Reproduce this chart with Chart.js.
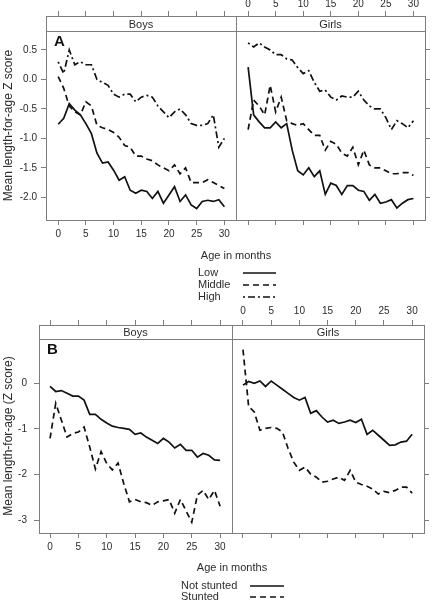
<!DOCTYPE html>
<html lang="en">
<head>
<meta charset="UTF-8">
<title>Mean length-for-age Z score by age</title>
<style>
  body { margin: 0; background: #fff; }
  .wrap { position: relative; width: 432px; height: 601px; }
  .wrap canvas { position: absolute; left: 0; top: 0; }
</style>
</head>
<body>
<div class="wrap">
  <canvas id="a-boys" width="432" height="601"></canvas>
  <canvas id="a-girls" width="432" height="601"></canvas>
  <canvas id="b-boys" width="432" height="601"></canvas>
  <canvas id="b-girls" width="432" height="601"></canvas>
</div>
<script src="https://cdn.jsdelivr.net/npm/chart.js"></script>
<script>
// age in months, one point per month
const months = [0, 1, 2, 3, 4, 5, 6, 7, 8, 9, 10, 11, 12, 13, 14, 15, 16, 17, 18, 19, 20, 21, 22, 23, 24, 25, 26, 27, 28, 29, 30];
const xTicks = [0, 5, 10, 15, 20, 25, 30];

// panel A: by socioeconomic group
const yTicksA = [-2, -1.5, -1, -0.5, 0, 0.5];
const yLabelsA = ['-2.0', '-1.5', '-1.0', '-0.5', '0.0', '0.5'];
const lowBoys = [-0.76, -0.66, -0.41, -0.52, -0.60, -0.75, -0.92, -1.25, -1.42, -1.40, -1.54, -1.71, -1.65, -1.88, -1.93, -1.88, -1.90, -2.02, -1.90, -2.10, -1.96, -1.82, -2.07, -1.96, -2.13, -2.19, -2.07, -2.05, -2.07, -2.04, -2.16];
const middleBoys = [0.05, -0.15, -0.45, -0.55, -0.60, -0.38, -0.45, -0.78, -0.82, -0.85, -0.90, -0.98, -1.12, -1.15, -1.30, -1.30, -1.35, -1.38, -1.45, -1.50, -1.55, -1.45, -1.60, -1.50, -1.75, -1.75, -1.75, -1.70, -1.75, -1.80, -1.85];
const highBoys = [0.30, 0.10, 0.50, 0.25, 0.30, 0.25, 0.25, 0.00, -0.05, -0.10, -0.25, -0.30, -0.25, -0.25, -0.38, -0.30, -0.27, -0.30, -0.45, -0.55, -0.65, -0.55, -0.50, -0.60, -0.75, -0.78, -0.78, -0.75, -0.60, -1.15, -1.00];
const lowGirls = [0.21, -0.60, -0.72, -0.82, -0.82, -0.72, -0.82, -0.75, -1.20, -1.55, -1.62, -1.50, -1.65, -1.55, -1.95, -1.76, -1.80, -1.95, -1.80, -1.80, -1.88, -1.90, -2.05, -1.95, -2.10, -2.08, -2.04, -2.18, -2.10, -2.04, -2.02];
const middleGirls = [-0.85, -0.35, -0.45, -0.60, -0.10, -0.55, -0.30, -0.70, -0.75, -0.78, -0.75, -0.85, -0.95, -0.95, -1.20, -1.05, -1.10, -1.25, -1.30, -1.15, -1.45, -1.20, -1.45, -1.50, -1.50, -1.55, -1.60, -1.60, -1.58, -1.58, -1.63];
const highGirls = [0.62, 0.55, 0.62, 0.55, 0.50, 0.42, 0.42, 0.35, 0.33, 0.20, 0.10, 0.15, -0.05, -0.20, -0.18, -0.30, -0.35, -0.28, -0.30, -0.30, -0.20, -0.35, -0.45, -0.50, -0.50, -0.65, -0.85, -0.70, -0.75, -0.82, -0.70];

// panel B: by stunting status
const yTicksB = [-3, -2, -1, 0];
const yLabelsB = ['-3', '-2', '-1', '0'];
const notStuntedBoys = [-0.07, -0.18, -0.16, -0.22, -0.28, -0.28, -0.37, -0.68, -0.68, -0.79, -0.87, -0.94, -0.97, -0.99, -1.01, -1.12, -1.09, -1.18, -1.25, -1.32, -1.21, -1.29, -1.42, -1.34, -1.47, -1.47, -1.62, -1.54, -1.58, -1.68, -1.69];
const stuntedBoys = [-1.21, -0.44, -0.81, -1.18, -1.10, -1.07, -0.96, -1.40, -1.88, -1.50, -1.76, -1.90, -1.75, -2.20, -2.60, -2.55, -2.60, -2.62, -2.68, -2.60, -2.58, -2.55, -2.85, -2.55, -2.80, -3.05, -2.45, -2.35, -2.55, -2.35, -2.70];
const notStuntedGirls = [-0.04, 0.04, 0.00, 0.05, -0.07, 0.05, -0.04, -0.13, -0.22, -0.31, -0.37, -0.31, -0.66, -0.60, -0.74, -0.85, -0.81, -0.88, -0.85, -0.81, -0.86, -0.79, -1.12, -1.03, -1.14, -1.25, -1.36, -1.35, -1.29, -1.27, -1.12];
const stuntedGirls = [0.74, -0.51, -0.63, -1.03, -0.99, -0.97, -0.99, -1.07, -1.43, -1.73, -1.91, -1.84, -1.99, -2.06, -2.17, -2.15, -2.10, -2.06, -2.13, -1.91, -2.17, -2.22, -2.26, -2.32, -2.43, -2.37, -2.40, -2.35, -2.28, -2.28, -2.41];

const FONT = '"Liberation Sans", Arial, sans-serif';
const GREY = '#7d7d7d';
const INK = '#2b2b2b';
const SOLID = [];
const DASHED = [6, 4];
const DASHDOT = [2, 3, 7, 3];

function series(label, values, dash) {
    return {
        label: label,
        data: values.map((v, i) => ({ x: months[i], y: v })),
        borderColor: '#111',
        borderWidth: 1.7,
        borderDash: dash,
        pointRadius: 0,
        tension: 0,
        fill: false
    };
}

// strip, frame, panel letter, y title and key (lattice look)
const latticePlugin = {
    id: 'lattice',
    afterDraw(chart, args, o) {
        const ctx = chart.ctx;
        const a = chart.chartArea;
        ctx.save();
        ctx.strokeStyle = GREY;
        ctx.lineWidth = 1;
        ctx.strokeRect(a.left + 0.5, a.top + 0.5, a.right - a.left, a.bottom - a.top);
        ctx.beginPath();
        ctx.moveTo(a.left, a.top + o.stripHeight + 0.5);
        ctx.lineTo(a.right, a.top + o.stripHeight + 0.5);
        ctx.stroke();

        ctx.fillStyle = INK;
        ctx.textAlign = 'center';
        ctx.textBaseline = 'middle';
        ctx.font = '11px ' + FONT;
        ctx.fillText(o.strip, (a.left + a.right) / 2, a.top + o.stripHeight / 2 + 1);

        if (o.letter) {
            ctx.fillStyle = '#111';
            ctx.font = 'bold 15px ' + FONT;
            ctx.textAlign = 'left';
            ctx.fillText(o.letter, a.left + 8, a.top + o.stripHeight + 11);
        }
        if (o.yTitle) {
            ctx.save();
            ctx.fillStyle = INK;
            ctx.font = '12px ' + FONT;
            ctx.textAlign = 'center';
            ctx.translate(o.yTitleX, (a.top + o.stripHeight + a.bottom) / 2);
            ctx.rotate(-Math.PI / 2);
            ctx.fillText(o.yTitle, 0, 0);
            ctx.restore();
        }
        if (o.key) {
            const k = o.key;
            ctx.fillStyle = INK;
            ctx.font = '11px ' + FONT;
            ctx.textAlign = 'center';
            ctx.fillText('Age in months', k.titleX, k.titleY);
            ctx.textAlign = 'left';
            chart.data.datasets.forEach((ds, i) => {
                const y = k.rowY[i];
                ctx.fillText(ds.label, k.textX, y);
                ctx.beginPath();
                ctx.setLineDash(ds.borderDash);
                ctx.strokeStyle = '#111';
                ctx.lineWidth = 1.7;
                ctx.moveTo(k.lineX1, y);
                ctx.lineTo(k.lineX2, y);
                ctx.stroke();
            });
        }
        ctx.restore();
    }
};

function drawPanel(id, p) {
    const tickFont = { family: FONT, size: 10 };
    // label boxes must be tall enough, Chart.js clips tick labels to the axis box
    const xAxis = (position, labels) => ({
        type: 'linear', axis: 'x', position: position,
        min: p.xMin, max: p.xMax, bounds: 'data',
        afterBuildTicks: s => { s.ticks = xTicks.map(v => ({ value: v })); },
        afterFit: s => { s.height = position === 'top' ? p.topBox : 22; },
        grid: { drawOnChartArea: false, tickLength: 5, color: GREY, lineWidth: 1 },
        border: { display: true, color: GREY, width: 1 },
        ticks: { display: labels, autoSkip: false, maxRotation: 0, padding: position === 'top' ? p.topPad : 3,
                 font: tickFont, color: INK, callback: v => String(v) }
    });
    const left = p.ySide === 'left';
    const yAxis = {
        type: 'linear', axis: 'y', position: p.ySide,
        min: p.yMin, max: p.yMax, bounds: 'data',
        afterBuildTicks: s => { s.ticks = p.yTicks.map(v => ({ value: v })); },
        afterFit: s => { s.width = left ? 30 : 5; },
        grid: { drawOnChartArea: false, tickLength: 5, color: GREY, lineWidth: 1 },
        border: { display: true, color: GREY, width: 1 },
        ticks: { display: left, autoSkip: false, padding: p.yPad, font: tickFont, color: INK, callback: (v, i) => p.yLabels[i] }
    };
    new Chart(document.getElementById(id), {
        type: 'line',
        data: { datasets: p.datasets },
        options: {
            responsive: false,
            animation: false,
            events: [],
            layout: { padding: p.padding },
            scales: { x: xAxis('bottom', left), x2: xAxis('top', !left), y: yAxis },
            plugins: {
                legend: { display: false },
                tooltip: { enabled: false },
                lattice: p.lattice
            }
        },
        plugins: [latticePlugin]
    });
}

const rangeA = { xMin: -2.2, xMax: 32.1, yMin: -2.385, yMax: 1.077, yTicks: yTicksA, yLabels: yLabelsA, yPad: 4, topBox: 16, topPad: 1 };
const rangeB = { xMin: -1.95, xMax: 32.1, yMin: -3.285, yMax: 1.279, yTicks: yTicksB, yLabels: yLabelsB, yPad: 7, topBox: 24, topPad: 3 };

drawPanel('a-boys', Object.assign({}, rangeA, {
    ySide: 'left',
    padding: { left: 16, right: 196, top: 0, bottom: 359 },
    datasets: [series('Low', lowBoys, SOLID), series('Middle', middleBoys, DASHED), series('High', highBoys, DASHDOT)],
    lattice: { strip: 'Boys', stripHeight: 15, letter: 'A', yTitle: 'Mean length-for-age Z score', yTitleX: 9 }
}));
drawPanel('a-girls', Object.assign({}, rangeA, {
    ySide: 'right',
    padding: { left: 236, right: 2, top: 0, bottom: 359 },
    datasets: [series('Low', lowGirls, SOLID), series('Middle', middleGirls, DASHED), series('High', highGirls, DASHDOT)],
    lattice: { strip: 'Girls', stripHeight: 15,
        key: { titleX: 236, titleY: 256, textX: 198, lineX1: 243, lineX2: 276, rowY: [273, 285, 297] } }
}));
drawPanel('b-boys', Object.assign({}, rangeB, {
    ySide: 'left',
    padding: { left: 9, right: 200, top: 301, bottom: 46 },
    datasets: [series('Not stunted', notStuntedBoys, SOLID), series('Stunted', stuntedBoys, DASHED)],
    lattice: { strip: 'Boys', stripHeight: 14, letter: 'B', yTitle: 'Mean length-for-age (Z score)', yTitleX: 9 }
}));
drawPanel('b-girls', Object.assign({}, rangeB, {
    ySide: 'right',
    padding: { left: 232, right: 3, top: 301, bottom: 46 },
    datasets: [series('Not stunted', notStuntedGirls, SOLID), series('Stunted', stuntedGirls, DASHED)],
    lattice: { strip: 'Girls', stripHeight: 14,
        key: { titleX: 232, titleY: 568, textX: 181, lineX1: 250, lineX2: 284, rowY: [586, 597] } }
}));
</script>
</body>
</html>
